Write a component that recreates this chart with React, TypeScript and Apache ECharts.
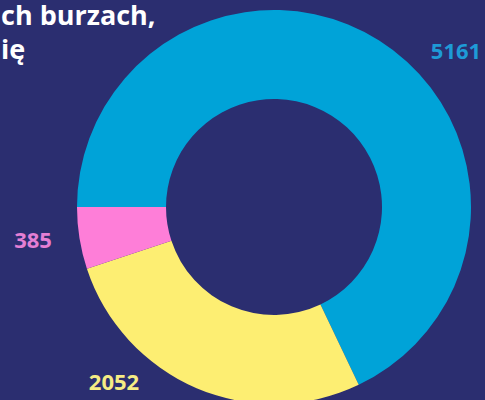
import React, { useEffect, useRef } from "react";
import * as echarts from "echarts";

const categories = ["A", "C", "B"];
const values = [5161, 2052, 385];
const colors = ["#00a3d8", "#fdee72", "#fe7ed8"];
const labelColors = ["#1e9bd7", "#f6ec84", "#e47fd4"];
const labelPos: [number, number][] = [
  [456, 50],
  [114, 381],
  [33, 239],
];
const titleLines = ["ch burzach,", "ię"];

export default function App() {
  const ref = useRef<HTMLDivElement>(null);
  useEffect(() => {
    document.body.style.margin = "0";
    const chart = echarts.init(ref.current!, undefined, { renderer: "svg" });
    chart.setOption({
      animation: false,
      backgroundColor: "#2b2e70",
      series: [
        {
          type: "pie",
          center: [274, 207],
          radius: [108, 197],
          startAngle: 180,
          clockwise: true,
          silent: true,
          label: { show: false },
          labelLine: { show: false },
          itemStyle: { borderWidth: 0 },
          data: categories.map((c, i) => ({
            name: c,
            value: values[i],
            itemStyle: { color: colors[i] },
          })),
        },
      ],
      graphic: [
        ...titleLines.map((t, i) => ({
          type: "text",
          left: 1,
          top: 1 + i * 34,
          style: {
            text: t,
            fill: "#ffffff",
            font: "bold 27px 'Open Sans'",
          },
        })),
        ...values.map((v, i) => ({
          type: "text",
          x: labelPos[i][0],
          y: labelPos[i][1],
          style: {
            text: String(v),
            fill: labelColors[i],
            font: "bold 22px 'Open Sans'",
            align: "center",
            verticalAlign: "middle",
          },
        })),
      ],
    });
    return () => chart.dispose();
  }, []);
  return (
    <div
      ref={ref}
      style={{ position: "fixed", left: 0, top: 0, width: 485, height: 400 }}
    />
  );
}
